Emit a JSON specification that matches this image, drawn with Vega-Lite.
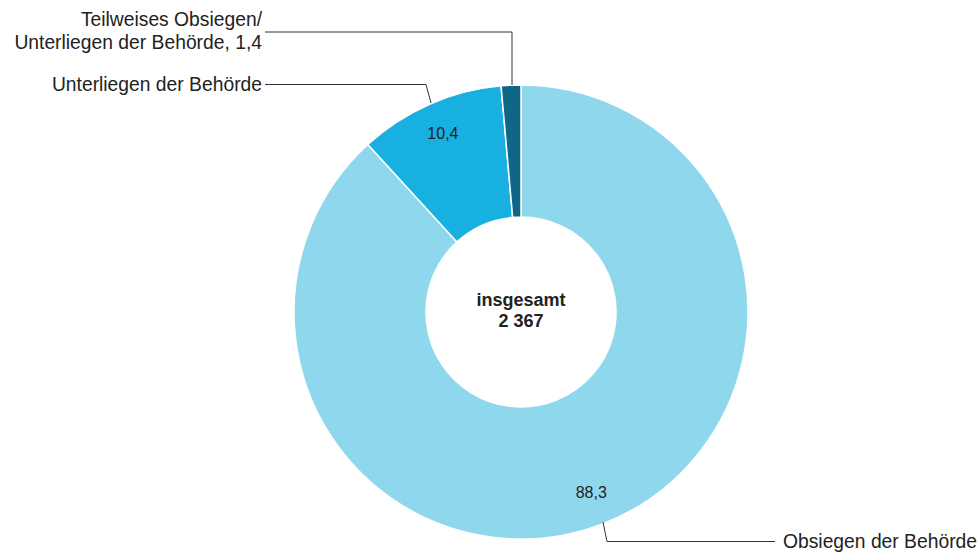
{
  "$schema": "https://vega.github.io/schema/vega-lite/v6.json",
  "width": 978,
  "height": 553,
  "autosize": {"type": "none"},
  "padding": 0,
  "background": "white",
  "config": {"view": {"stroke": null}, "font": "Liberation Sans"},
  "datasets": {
    "slices": [
      {"category": "Obsiegen der Behörde", "value": 88.3, "ord": 1, "label": "88,3"},
      {"category": "Unterliegen der Behörde", "value": 10.4, "ord": 2, "label": "10,4"},
      {"category": "Teilweises Obsiegen/Unterliegen der Behörde", "value": 1.4, "ord": 3, "label": ""}
    ],
    "leaders": [
      {"line": "Teilweise", "step": 1, "px": -256, "py": 280},
      {"line": "Teilweise", "step": 2, "px": -9, "py": 280},
      {"line": "Teilweise", "step": 3, "px": -9, "py": 227},
      {"line": "Unterliegen", "step": 1, "px": -256, "py": 227.5},
      {"line": "Unterliegen", "step": 2, "px": -95, "py": 227.5},
      {"line": "Unterliegen", "step": 3, "px": -90, "py": 209},
      {"line": "Obsiegen", "step": 1, "px": 82, "py": -210},
      {"line": "Obsiegen", "step": 2, "px": 86, "py": -229.5},
      {"line": "Obsiegen", "step": 3, "px": 254, "py": -229.5}
    ],
    "labels": [
      {"text": ["Teilweises Obsiegen/", "Unterliegen der Behörde, 1,4"], "px": -259, "py": 292, "side": "right"},
      {"text": ["Unterliegen der Behörde"], "px": -259, "py": 227, "side": "right"},
      {"text": ["Obsiegen der Behörde"], "px": 262, "py": -230, "side": "left"}
    ]
  },
  "layer": [
    {
      "data": {"name": "slices"},
      "mark": {"type": "arc", "innerRadius": 95, "outerRadius": 227, "stroke": "white", "strokeWidth": 1.5},
      "encoding": {
        "x": {"datum": 0, "type": "quantitative", "scale": {"domain": [-521, 457], "nice": false, "zero": false}, "axis": null},
        "y": {"datum": 0, "type": "quantitative", "scale": {"domain": [-241, 312], "nice": false, "zero": false}, "axis": null},
        "theta": {"field": "value", "type": "quantitative", "stack": true},
        "order": {"field": "ord", "type": "quantitative", "sort": "ascending"},
        "color": {
          "field": "category",
          "type": "nominal",
          "scale": {
            "domain": ["Obsiegen der Behörde", "Unterliegen der Behörde", "Teilweises Obsiegen/Unterliegen der Behörde"],
            "range": ["#8fd7ed", "#17b0e0", "#0f6788"]
          },
          "legend": null
        }
      }
    },
    {
      "data": {"name": "slices"},
      "mark": {"type": "text", "radius": 194, "fontSize": 16, "color": "#222222", "align": "center", "baseline": "middle"},
      "encoding": {
        "x": {"datum": 0, "type": "quantitative", "axis": null},
        "y": {"datum": 0, "type": "quantitative", "axis": null},
        "theta": {"field": "value", "type": "quantitative", "stack": true},
        "order": {"field": "ord", "type": "quantitative", "sort": "ascending"},
        "text": {"field": "label"}
      }
    },
    {
      "data": {"values": [{"t": ["insgesamt", "2 367"]}]},
      "mark": {"type": "text", "fontSize": 18, "fontWeight": "bold", "color": "#222222", "align": "center", "baseline": "middle", "lineHeight": 21},
      "encoding": {
        "x": {"datum": 0, "type": "quantitative", "axis": null},
        "y": {"datum": 11, "type": "quantitative", "axis": null},
        "text": {"field": "t"}
      }
    },
    {
      "data": {"name": "leaders"},
      "mark": {"type": "line", "stroke": "#333333", "strokeWidth": 1},
      "encoding": {
        "x": {"field": "px", "type": "quantitative", "axis": null},
        "y": {"field": "py", "type": "quantitative", "axis": null},
        "detail": {"field": "line"},
        "order": {"field": "step", "type": "quantitative"}
      }
    },
    {
      "data": {"name": "labels"},
      "transform": [{"filter": "datum.side === 'right'"}],
      "mark": {"type": "text", "fontSize": 19.3, "color": "#222222", "align": "right", "baseline": "middle", "lineHeight": 23},
      "encoding": {
        "x": {"field": "px", "type": "quantitative", "axis": null},
        "y": {"field": "py", "type": "quantitative", "axis": null},
        "text": {"field": "text"}
      }
    },
    {
      "data": {"name": "labels"},
      "transform": [{"filter": "datum.side === 'left'"}],
      "mark": {"type": "text", "fontSize": 19.3, "color": "#222222", "align": "left", "baseline": "middle", "lineHeight": 23},
      "encoding": {
        "x": {"field": "px", "type": "quantitative", "axis": null},
        "y": {"field": "py", "type": "quantitative", "axis": null},
        "text": {"field": "text"}
      }
    }
  ]
}
